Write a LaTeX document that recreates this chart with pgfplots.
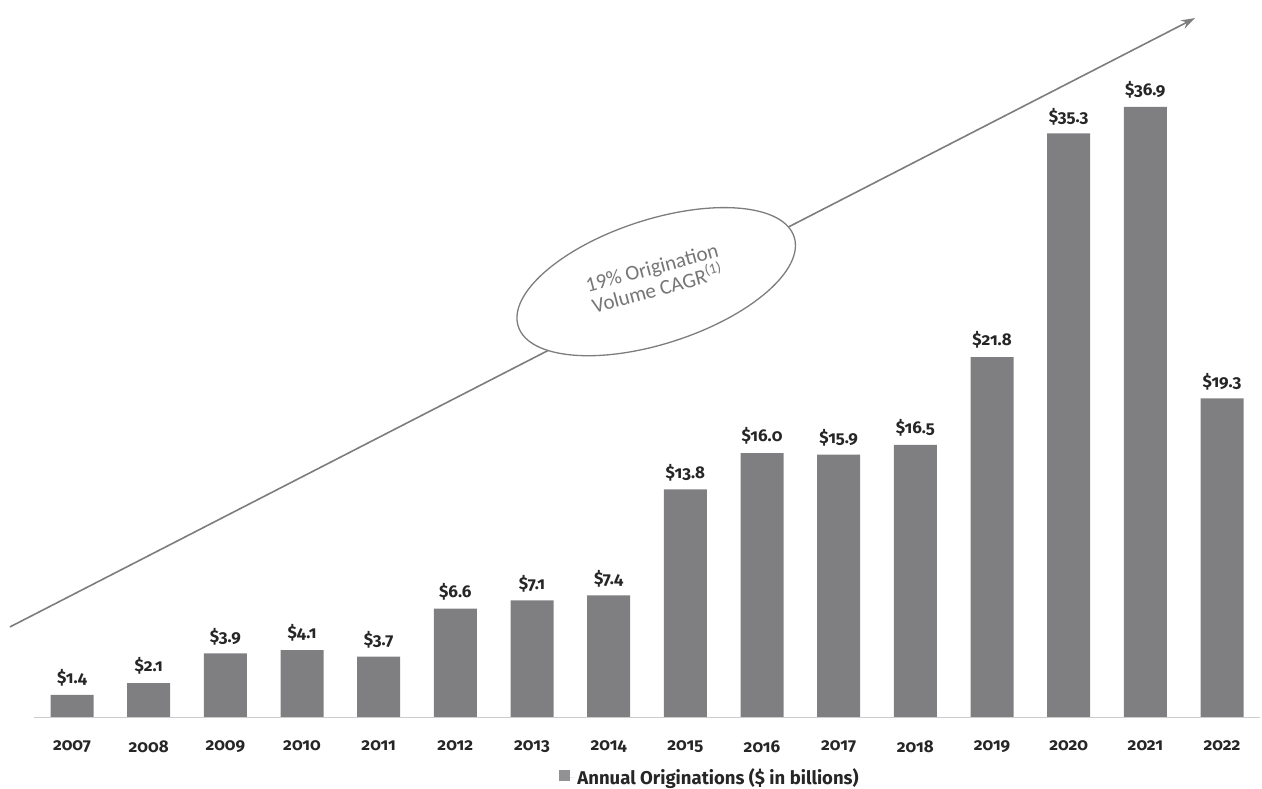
\documentclass[border=0pt]{standalone}
\usepackage{pgfplots}
\pgfplotsset{compat=1.18}
\usepackage{fontspec}
\setmainfont{Fira Sans}[Numbers=OldStyle]
\newfontfamily\calib{Carlito}
\usetikzlibrary{arrows.meta,shapes.geometric}
\definecolor{bargray}{RGB}{127,127,130}
\definecolor{arrowgray}{RGB}{125,125,125}
\definecolor{txtgray}{RGB}{118,118,118}
\begin{document}
\begin{tikzpicture}
\begin{axis}[
  at={(33.67pt,71pt)}, anchor=south west,
  scale only axis, width=1226.67pt, height=718pt,
  xmin=-0.5, xmax=15.5, ymin=0, ymax=43.36,
  axis line style={draw=none},
  ytick=\empty, xtick={0,...,15},
  xticklabels={2007,2008,2009,2010,2011,2012,2013,2014,2015,2016,2017,2018,2019,2020,2021,2022},
  major tick length=0pt,
  xticklabel style={font=\bfseries\fontsize{17}{20}\selectfont, text=black!85, yshift=-19pt},
  ybar, bar width=43pt, bar shift=0pt,
  clip=false,
  /pgf/number format/assume math mode=true,
  nodes near coords={\$\pgfmathprintnumber[fixed,fixed zerofill,precision=1]{\pgfplotspointmeta}},
  nodes near coords style={font=\bfseries\fontsize{17}{20}\selectfont, text=black!85, yshift=5pt},
  legend style={at={(0.5514,-0.0822)}, anchor=center, draw=none, fill=none,
    font=\bfseries\fontsize{18.5}{21}\selectfont, text=black!85},
  legend image code/.code={\fill[bargray!85] (0pt,-4pt) rectangle (11pt,7pt);
    \path (0pt,0pt) -- (16pt,0pt);},
]
\addplot[fill=bargray, draw=none] coordinates {
 (0,1.4) (1,2.1) (2,3.9) (3,4.1) (4,3.7) (5,6.6) (6,7.1) (7,7.4)
 (8,13.8) (9,16.0) (10,15.9) (11,16.5) (12,21.8) (13,35.3) (14,36.9) (15,19.3)};
\addlegendentry{Annual Originations (\$ in billions)}
\draw[black!20, line width=1pt] (axis cs:-0.5,0) -- (axis cs:15.5,0);
\draw[arrowgray, line width=1.6pt, -{Stealth[length=14pt,width=9pt]}] (axis cs:-0.809,5.50) -- (axis cs:14.65,42.27);
\node[draw=arrowgray, fill=white, ellipse, line width=1.3pt, inner sep=0pt,
  minimum width=290pt, minimum height=124pt, rotate=18] at (axis cs:7.62,26.35) {};
\node[rotate=15, align=center, text=txtgray, font=\calib\fontsize{21}{22}\selectfont]
  at (axis cs:7.60,26.55) {19\% Origination\\Volume CAGR\textsuperscript{(1)}};
\end{axis}
\pgfresetboundingbox
\useasboundingbox (0,0) rectangle (1262pt,789pt);
\end{tikzpicture}
\end{document}
